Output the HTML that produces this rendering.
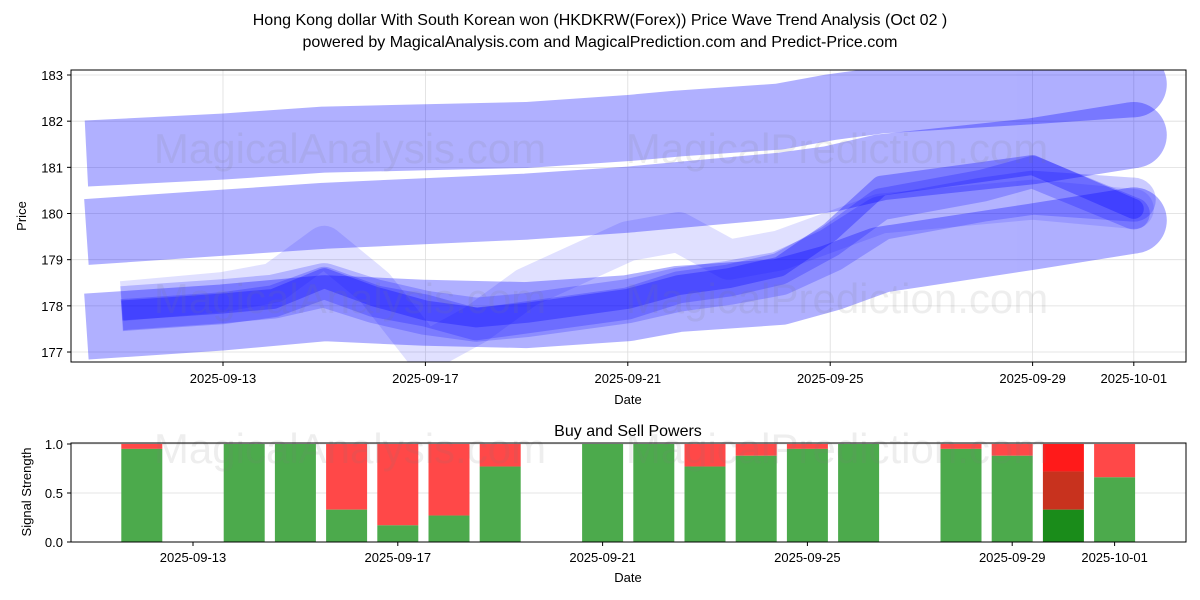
<!DOCTYPE html>
<html><head><meta charset="utf-8"><style>
body{margin:0;background:#fff;}
svg{display:block;font-family:"Liberation Sans","DejaVu Sans",sans-serif;}
</style></head><body>
<svg id="chart" width="1200" height="600" xmlns="http://www.w3.org/2000/svg">
<text x="600" y="25" text-anchor="middle" font-size="16">Hong Kong dollar With South Korean won (HKDKRW(Forex)) Price Wave Trend Analysis (Oct 02 )</text>
<text x="600" y="47" text-anchor="middle" font-size="16">powered by MagicalAnalysis.com and MagicalPrediction.com and Predict-Price.com</text>
<defs>
<clipPath id="topclip"><rect x="71" y="70" width="1115" height="292"/></clipPath>
<clipPath id="botclip"><rect x="71" y="443" width="1115" height="99"/></clipPath>
</defs>
<g id="top-grid"></g>
<g id="top-marks" clip-path="url(#topclip)"></g>
<text x="350" y="163" text-anchor="middle" font-size="42" fill="rgba(120,120,120,0.13)">MagicalAnalysis.com</text>
<text x="837" y="163" text-anchor="middle" font-size="42" fill="rgba(120,120,120,0.13)">MagicalPrediction.com</text>
<text x="350" y="313" text-anchor="middle" font-size="42" fill="rgba(120,120,120,0.13)">MagicalAnalysis.com</text>
<text x="837" y="313" text-anchor="middle" font-size="42" fill="rgba(120,120,120,0.13)">MagicalPrediction.com</text>
<rect x="71" y="70" width="1115" height="292" fill="none" stroke="#000" stroke-width="1"/>
<g id="top-axes"></g>
<text x="628" y="404" text-anchor="middle" font-size="13">Date</text>
<text transform="translate(26,216) rotate(-90)" text-anchor="middle" font-size="13">Price</text>

<text x="628" y="436" text-anchor="middle" font-size="16">Buy and Sell Powers</text>
<g id="bot-grid"></g>
<g id="bot-marks" clip-path="url(#botclip)"></g>
<text x="350" y="463" text-anchor="middle" font-size="42" fill="rgba(120,120,120,0.13)">MagicalAnalysis.com</text>
<text x="837" y="463" text-anchor="middle" font-size="42" fill="rgba(120,120,120,0.13)">MagicalPrediction.com</text>
<rect x="71" y="443" width="1115" height="99" fill="none" stroke="#000" stroke-width="1"/>
<g id="bot-axes"></g>
<text x="628" y="582" text-anchor="middle" font-size="13">Date</text>
<text transform="translate(31,492) rotate(-90)" text-anchor="middle" font-size="13">Signal Strength</text>
</svg>
<script>
// day index: day of September (Oct 1 = 31)
const xTickDays = [13, 17, 21, 25, 29, 31];
const xTickLabels = ["2025-09-13","2025-09-17","2025-09-21","2025-09-25","2025-09-29","2025-10-01"];
const yTicks = [177, 178, 179, 180, 181, 182, 183];
const bandDays = [10.3, 13, 15, 17, 19, 21, 22, 24, 25, 26, 29, 31];
const bandA = [181.3, 181.45, 181.6, 181.65, 181.7, 181.85, 181.95, 182.1, 182.3, 182.45, 182.65, 182.8];
const bandB = [179.6, 179.8, 179.95, 180.05, 180.15, 180.3, 180.4, 180.6, 180.75, 181.0, 181.35, 181.7];
const bandC = [177.55, 177.75, 177.95, 177.85, 177.8, 177.95, 178.15, 178.3, 178.6, 179.0, 179.5, 179.85];
const waveDays = [11, 13, 14, 15, 16, 17, 18, 19, 21, 22, 23, 24, 25, 26, 28, 29, 31];
const wave1 = [177.95, 178.1, 178.2, 178.45, 178.1, 177.85, 177.7, 177.8, 178.1, 178.35, 178.5, 178.7, 179.2, 179.9, 180.3, 180.45, 180.3];
const wave2 = [177.9, 178.05, 178.15, 178.6, 178.2, 177.9, 177.75, 177.85, 178.15, 178.45, 178.6, 178.85, 179.6, 180.6, 180.9, 181.05, 180.1];
const wave3 = [178.1, 178.3, 178.5, 179.3, 178.4, 177.0, 177.6, 178.4, 179.4, 179.6, 179.0, 179.2, 179.6, 180.0, 180.2, 180.3, 180.1];
const wave4 = [177.8, 177.95, 178.1, 178.5, 178.1, 177.9, 177.6, 177.75, 178.05, 178.4, 178.55, 178.8, 179.4, 180.2, 180.6, 180.9, 180.0];
const barDays = [12, 14, 15, 16, 17, 18, 19, 21, 22, 23, 24, 25, 26, 28, 29, 30, 31];
const buyPower = [0.95, 1.0, 1.0, 0.33, 0.17, 0.27, 0.77, 1.0, 1.0, 0.77, 0.88, 0.95, 1.0, 0.95, 0.88, 0.33, 0.66];
const midPower = [0, 0, 0, 0, 0, 0, 0, 0, 0, 0, 0, 0, 0, 0, 0, 0.72, 0];
const bTicks = [0, 0.5, 1.0];
const bTickLabels = ["0.0", "0.5", "1.0"];

const NS = "http://www.w3.org/2000/svg";
const xT = d => 223 + (d - 13) * 50.6;
const yT = v => 75 + (183 - v) * 46.17;
const xB = d => 193 + (d - 13) * 51.2;
const yB = v => 542 - v * 98;
function mk(tag, attrs, parent) {
  const e = document.createElementNS(NS, tag);
  for (const k in attrs) e.setAttribute(k, attrs[k]);
  parent.appendChild(e);
  return e;
}
const tg = document.getElementById("top-grid"), tm = document.getElementById("top-marks"), ta = document.getElementById("top-axes");
const bg = document.getElementById("bot-grid"), bm = document.getElementById("bot-marks"), ba = document.getElementById("bot-axes");

xTickDays.forEach((d, i) => {
  const x = xT(d);
  const g = mk("line", {x1: x, x2: x, y1: 70, y2: 362, stroke: "#ddd", "stroke-width": 0.8}, tg);
  
  
  mk("line", {x1: x, x2: x, y1: 362, y2: 366, stroke: "#000"}, ta);
  const t = mk("text", {x: x, y: 383, "text-anchor": "middle", "font-size": 13}, ta);
  t.textContent = xTickLabels[i];
  
  
});
yTicks.forEach(v => {
  const y = yT(v);
  const g = mk("line", {x1: 71, x2: 1186, y1: y, y2: y, stroke: "#ddd", "stroke-width": 0.8}, tg);
  
  
  mk("line", {x1: 67, x2: 71, y1: y, y2: y, stroke: "#000"}, ta);
  const t = mk("text", {x: 63, y: y + 5, "text-anchor": "end", "font-size": 13}, ta);
  t.textContent = v;
  
  
});
function drawLine(days, vals, width, alpha, name) {
  const grp = mk("g", {opacity: alpha}, tm);
  
  
  const pts = days.map((d, i) => xT(d).toFixed(1) + "," + yT(vals[i]).toFixed(1)).join(" ");
  const p = mk("polyline", {points: pts, fill: "none", stroke: "rgb(0,0,255)", "stroke-width": width, "stroke-linejoin": "round", "stroke-linecap": "butt"}, grp);
  
  
  const n = days.length - 1;
  const c = mk("circle", {cx: xT(days[n]), cy: yT(vals[n]), r: width / 2, fill: "rgb(0,0,255)"}, grp);
  
  
}
drawLine(bandDays, bandA, 66, 0.31, "wave-band-upper");
drawLine(bandDays, bandB, 66, 0.31, "wave-band-middle");
drawLine(bandDays, bandC, 66, 0.31, "wave-band-lower");
drawLine(waveDays, wave3, 40, 0.12, "wave-light");
drawLine(waveDays, wave1, 44, 0.2, "wave-wide");
drawLine(waveDays, wave4, 32, 0.22, "wave-mid");
drawLine(waveDays, wave2, 20, 0.3, "wave-core");

bTicks.forEach((v, i) => {
  const y = yB(v);
  const g = mk("line", {x1: 71, x2: 1186, y1: y, y2: y, stroke: "#ddd", "stroke-width": 0.8}, bg);
  
  
  mk("line", {x1: 67, x2: 71, y1: y, y2: y, stroke: "#000"}, ba);
  const t = mk("text", {x: 63, y: y + 5, "text-anchor": "end", "font-size": 13}, ba);
  t.textContent = bTickLabels[i];
  
  
});
xTickDays.forEach((d, i) => {
  const x = xB(d);
  mk("line", {x1: x, x2: x, y1: 542, y2: 546, stroke: "#000"}, ba);
  const t = mk("text", {x: x, y: 562, "text-anchor": "middle", "font-size": 13}, ba);
  t.textContent = xTickLabels[i];
  
  
});
barDays.forEach((d, i) => {
  const x = xB(d) - 20.5, w = 41;
  const b = buyPower[i], m = midPower[i];
  if (m > 0) {
    const r1 = mk("rect", {x: x, y: yB(1), width: w, height: yB(m) - yB(1), fill: "#ff1a1a"}, bm);
    
    
    const r2 = mk("rect", {x: x, y: yB(m), width: w, height: yB(b) - yB(m), fill: "#c8321e"}, bm);
    
    
    const r3 = mk("rect", {x: x, y: yB(b), width: w, height: yB(0) - yB(b), fill: "#1a8c1a"}, bm);
    
    
  } else {
    const r1 = mk("rect", {x: x, y: yB(1), width: w, height: yB(b) - yB(1), fill: "#ff4848"}, bm);
    
    
    const r3 = mk("rect", {x: x, y: yB(b), width: w, height: yB(0) - yB(b), fill: "#4caa4c"}, bm);
    
    
  }
});
</script>
</body></html>
